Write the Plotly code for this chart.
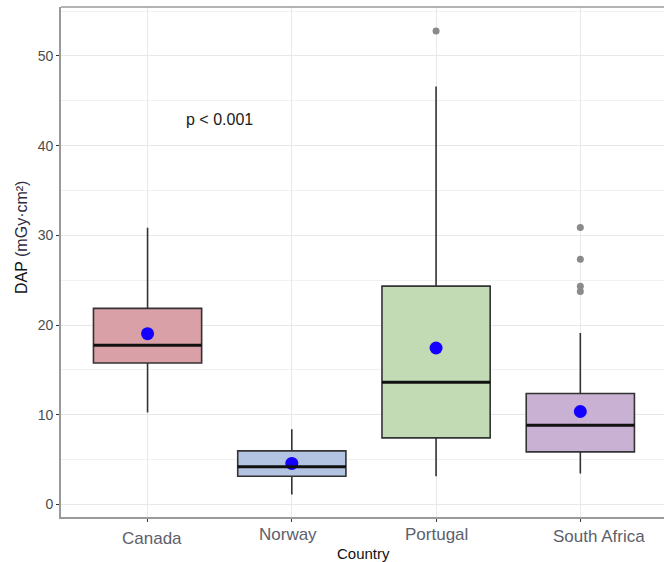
import plotly.graph_objects as go

# ---- data ----
countries = ["Canada", "Norway", "Portugal", "South Africa"]
q1 = [15.77, 3.15, 7.42, 5.86]
median = [17.74, 4.19, 13.62, 8.83]
q3 = [21.86, 5.97, 24.34, 12.36]
lower_whisker = [10.24, 1.11, 3.15, 3.45]
upper_whisker = [30.85, 8.39, 46.58, 19.11]
means = [19.04, 4.57, 17.44, 10.36]
outlier_country = ["Portugal", "South Africa", "South Africa", "South Africa", "South Africa"]
outlier_value = [52.78, 30.88, 27.34, 24.31, 23.75]
y_ticks = [0, 10, 20, 30, 40, 50]
p_text = "p < 0.001"

fills = ["rgb(217,160,167)", "rgb(178,196,226)", "rgb(194,219,180)", "rgb(201,177,212)"]

fig = go.Figure()
for i, c in enumerate(countries):
    fig.add_trace(go.Box(
        x=[c], q1=[q1[i]], median=[median[i]], q3=[q3[i]],
        lowerfence=[lower_whisker[i]], upperfence=[upper_whisker[i]],
        width=0.75, whiskerwidth=0, fillcolor=fills[i],
        line=dict(color="#333333", width=1.6), boxpoints=False,
        showlegend=False, hoverinfo="skip"))
    # thicker median line like ggplot
    fig.add_shape(type="line", xref="x", yref="y",
                  x0=i - 0.375, x1=i + 0.375, y0=median[i], y1=median[i],
                  line=dict(color="#111111", width=3))

fig.add_trace(go.Scatter(x=outlier_country, y=outlier_value, mode="markers",
                         marker=dict(color="#8a8a8a", size=7), showlegend=False))
fig.add_trace(go.Scatter(x=countries, y=means, mode="markers",
                         marker=dict(color="#1400ff", size=13), showlegend=False))

fig.update_layout(
    width=664, height=562,
    margin=dict(l=61, r=0, t=7, b=45),
    paper_bgcolor="white", plot_bgcolor="white",
    font=dict(family="Liberation Sans, Arial, sans-serif", color="#4d4d4d"),
    boxmode="overlay",
)
fig.update_xaxes(
    type="category", categoryorder="array", categoryarray=countries,
    range=[-0.6, 3.58], showgrid=True, gridcolor="#e8e8e8", gridwidth=1.4,
    showline=True, linecolor="#9a9a9a", linewidth=1.6,
    ticks="outside", ticklen=3, tickcolor="#333333", showticklabels=False,
    zeroline=False,
)
fig.update_yaxes(
    range=[-1.4, 55.45], tickvals=y_ticks, showgrid=True, gridcolor="#e8e8e8", gridwidth=1.4,
    minor=dict(tick0=5, dtick=10, showgrid=True, gridcolor="#f1f1f1", gridwidth=1),
    showline=True, linecolor="#9a9a9a", linewidth=1.6,
    ticks="outside", ticklen=3, tickcolor="#333333",
    tickfont=dict(size=14, color="#4d4d4d"), zeroline=False,
)
# top panel border
fig.add_shape(type="line", xref="paper", yref="paper", x0=0, x1=1, y0=1, y1=1,
              line=dict(color="#9a9a9a", width=1.6))

# x tick labels (placed as in the reference)
xshifts = [4, -4, 0, 19]
yshifts = [-21, -17, -17, -19]
for i, c in enumerate(countries):
    fig.add_annotation(x=c, xref="x", y=0, yref="paper", text=c, showarrow=False,
                       xshift=xshifts[i], yshift=yshifts[i], yanchor="middle",
                       font=dict(size=17, color="#5c606c"))

fig.add_annotation(x=0.5, xref="paper", y=0, yref="paper", text="Country", showarrow=False,
                   yshift=-36, yanchor="middle", xshift=1,
                   font=dict(size=15, color="#111111"))
fig.add_annotation(x=0, xref="paper", y=0.547, yref="paper",
                   text="DAP <span style='color:#2e2a40'>(mGy·cm²)</span>", showarrow=False,
                   textangle=-90, xshift=-40, xanchor="center", yanchor="middle",
                   font=dict(size=16, color="#111111"))
fig.add_annotation(x=0.5, xref="x", y=42.9, yref="y", text=p_text, showarrow=False,
                   xshift=0, font=dict(size=16, color="#1a1a1a"))

fig.write_html("out.html", config={"displayModeBar": False},
               post_script="document.body.style.margin='0';")
